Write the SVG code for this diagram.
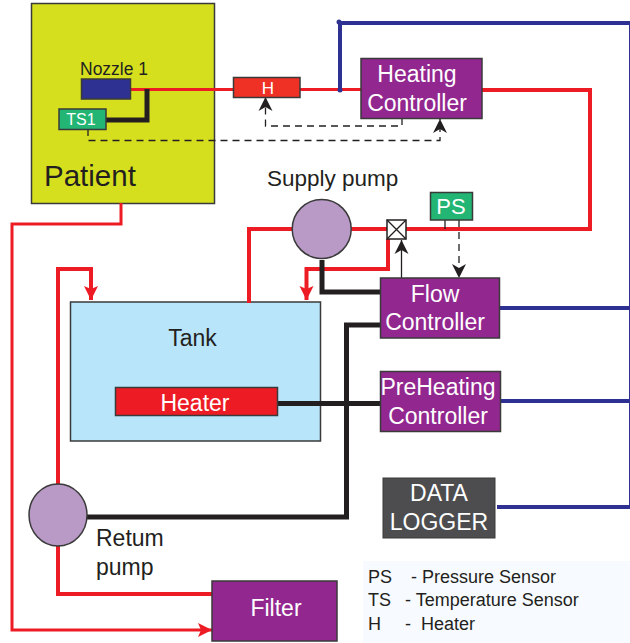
<svg xmlns="http://www.w3.org/2000/svg" width="630" height="643" viewBox="0 0 630 643">
<style>
text{font-family:"Liberation Sans",Arial,sans-serif}
.box{stroke:#3a3a3a;stroke-width:1.5}
.pur{fill:#92278f}
.grn{fill:#22b573}
.pump{fill:#b99ac6;stroke:#3a3a3a;stroke-width:1.5}
.w{fill:#fff;text-anchor:middle}
.d{fill:#231f20}
.r{fill:none;stroke:#ed1c24;stroke-width:4}
.rt{fill:none;stroke:#ed1c24;stroke-width:3}
.b{fill:none;stroke:#231f20;stroke-width:5}
.u{fill:none;stroke:#2e3192;stroke-width:4}
.ds{fill:none;stroke:#231f20;stroke-width:1.3;stroke-dasharray:7 5}
.k{fill:none;stroke:#231f20;stroke-width:1.3}
</style>
<defs>
<marker id="ak" markerUnits="userSpaceOnUse" markerWidth="16" markerHeight="16" refX="14" refY="8" orient="auto"><path d="M0 1 L14 8 L0 15 L4 8Z" fill="#231f20"/></marker>
<marker id="ar" markerUnits="userSpaceOnUse" markerWidth="16" markerHeight="16" refX="14" refY="8" orient="auto"><path d="M0 1 L14 8 L0 15 L3 8Z" fill="#ed1c24"/></marker>
</defs>
<rect x="363" y="561" width="267" height="82" fill="#f7fbff"/>
<g id="patient"><rect class="box" x="31.500" y="3.500" width="183" height="200" fill="#d6df1e"/><text class="d" x="44" y="186" font-size="29.500">Patient</text></g>
<g id="tank"><rect class="box" x="70.500" y="302" width="250" height="139" fill="#b9e5fb"/><text class="d" x="192.500" y="346" font-size="23" text-anchor="middle">Tank</text></g>
<g id="connectors">
<path class="rt" d="M130 89.500H233M300 89.500H361"/>
<path class="r" d="M482 90H590V229H351"/>
<path class="r" d="M293 229H249V303"/>
<path class="r" d="M388 239V269H306.500V300" marker-end="url(#ar)"/>
<path class="r" d="M58 485V269H91V300" marker-end="url(#ar)"/>
<path class="r" d="M58 546V594H212"/>
<path class="rt" d="M121 203V224H12V630H212" marker-end="url(#ar)"/>
<path class="u" d="M340 90V23H630"/>
<circle cx="339" cy="22" r="2.500" fill="#2e3192"/>
<circle cx="340" cy="90" r="2.500" fill="#2e3192"/>
<path class="u" d="M499 308H630M500 401H630M497 507H630"/>
<path d="M629.500 23V508" fill="none" stroke="#2e3192" stroke-width="1"/>
<path class="b" d="M147 89V120H106"/>
<path class="b" d="M322 260V292H380"/>
<path class="b" d="M380 325H346.500V517H87"/>
<path class="b" d="M277 403.500H380"/>
<path class="k" d="M401.500 278V240" marker-end="url(#ak)"/>
<path class="k" d="M445 220V229"/>
<path class="ds" d="M459 220V278" marker-end="url(#ak)"/>
<path class="ds" d="M88 129V140.500H440V119" marker-end="url(#ak)"/>
<path class="ds" d="M402 118V126H265.500V97" marker-end="url(#ak)"/>
</g>
<g id="nozzle"><rect class="box" x="81.500" y="79" width="49" height="20" fill="#2e3192"/><text class="d" x="80" y="75" font-size="17.500">Nozzle 1</text></g>
<g id="ts1"><rect class="box grn" x="59" y="109" width="47" height="20.500"/><text class="w" x="81" y="125" font-size="16">TS1</text></g>
<g id="h"><rect class="box" x="233.500" y="77.500" width="66.500" height="20" fill="#ef3024"/><text class="w" x="268" y="94" font-size="17">H</text></g>
<g id="heating-controller"><rect class="box pur" x="361" y="58.500" width="121" height="60"/><text class="w" x="417" y="82" font-size="23">Heating</text><text class="w" x="417" y="111" font-size="23">Controller</text></g>
<g id="supply-pump"><circle class="pump" cx="321.700" cy="229" r="29.500"/><text class="d" x="267" y="186" font-size="22.500">Supply pump</text></g>
<g id="valve"><rect x="387" y="220" width="19" height="19" fill="#fff" stroke="#231f20" stroke-width="1.500"/><path d="M387 220L406 239M406 220L387 239" stroke="#231f20" stroke-width="1.300"/></g>
<g id="ps"><rect class="box grn" x="430.500" y="192.500" width="42" height="27.500"/><text class="w" x="451" y="214" font-size="22">PS</text></g>
<g id="flow-controller"><rect class="box pur" x="380.500" y="278" width="119" height="60"/><text class="w" x="435" y="302" font-size="23">Flow</text><text class="w" x="435" y="330" font-size="23">Controller</text></g>
<g id="heater"><rect class="box" x="115.500" y="387.500" width="162" height="28" fill="#ed1c24"/><text class="w" x="195" y="411" font-size="23">Heater</text></g>
<g id="preheating-controller"><rect class="box pur" x="380.500" y="371.500" width="120" height="60"/><text class="w" x="438" y="395" font-size="23">PreHeating</text><text class="w" x="438" y="424" font-size="23">Controller</text></g>
<g id="data-logger"><rect x="383" y="478" width="112" height="60" fill="#4d4d4f" stroke="#3a3a3a"/><text class="w" x="439" y="501" font-size="23">DATA</text><text class="w" x="439" y="530" font-size="23">LOGGER</text></g>
<g id="return-pump"><ellipse class="pump" cx="58" cy="515" rx="29" ry="31"/><text class="d" x="96" y="546" font-size="23">Retum</text><text class="d" x="96" y="575" font-size="23">pump</text></g>
<g id="filter"><rect class="box pur" x="212" y="581" width="125" height="60"/><text class="w" x="276" y="616" font-size="23">Filter</text></g>
<g id="legend">
<text class="d" font-size="18" x="368" y="583">PS</text><text class="d" font-size="18" x="411" y="583">- Pressure Sensor</text>
<text class="d" font-size="18" x="368" y="606">TS</text><text class="d" font-size="18" x="405" y="606">- Temperature Sensor</text>
<text class="d" font-size="18" x="368" y="630">H</text><text class="d" font-size="18" x="405" y="630">-</text><text class="d" font-size="18" x="421" y="630">Heater</text>
</g>
</svg>
